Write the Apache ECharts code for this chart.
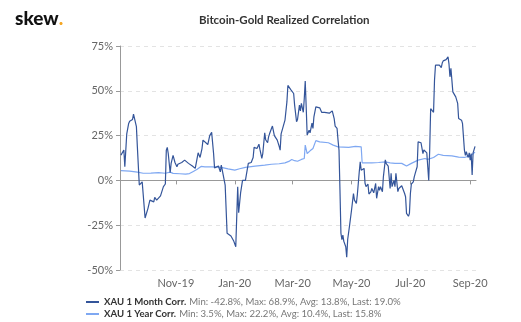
<!DOCTYPE html>
<html>
<head>
<meta charset="utf-8">
<script src="https://cdn.jsdelivr.net/npm/echarts@6/dist/echarts.min.js"></script>
<style>html,body{margin:0;padding:0;background:#fff;}#c{width:521px;height:322px;}</style>
</head>
<body>
<div id="c"></div>
<script>
const titleText = 'Bitcoin-Gold Realized Correlation';
const seriesNames = ['XAU 1 Month Corr.', 'XAU 1 Year Corr.'];
const seriesStats = ['Min: -42.8%, Max: 68.9%, Avg: 13.8%, Last: 19.0%', 'Min: 3.5%, Max: 22.2%, Avg: 10.4%, Last: 15.8%'];
const yTicks = [-50, -25, 0, 25, 50, 75];
const xRange = ['2019-09-04', '2020-09-07'];

const monthDates = ['2019-09-05','2019-09-06','2019-09-08','2019-09-09','2019-09-11','2019-09-13','2019-09-14','2019-09-17','2019-09-18','2019-09-20','2019-09-21','2019-09-22','2019-09-24','2019-09-26','2019-09-27','2019-09-29','2019-09-30',
'2019-10-01','2019-10-03','2019-10-05','2019-10-06','2019-10-07','2019-10-09','2019-10-10','2019-10-12','2019-10-14','2019-10-16','2019-10-18','2019-10-19','2019-10-21','2019-10-22','2019-10-23','2019-10-24','2019-10-26','2019-10-27','2019-10-29','2019-10-31',
'2019-11-02','2019-11-03','2019-11-05','2019-11-07','2019-11-09','2019-11-10','2019-11-12','2019-11-14','2019-11-15','2019-11-18','2019-11-21','2019-11-22','2019-11-24','2019-11-26','2019-11-28','2019-11-29',
'2019-12-01','2019-12-04','2019-12-06','2019-12-08','2019-12-10','2019-12-11','2019-12-13','2019-12-15','2019-12-17','2019-12-18','2019-12-20','2019-12-22','2019-12-23','2019-12-24','2019-12-26','2019-12-28','2019-12-29','2019-12-31',
'2020-01-02','2020-01-04','2020-01-05','2020-01-06','2020-01-07','2020-01-09','2020-01-11','2020-01-12','2020-01-14','2020-01-15','2020-01-17','2020-01-18','2020-01-20','2020-01-21','2020-01-23','2020-01-24','2020-01-26','2020-01-27','2020-01-29','2020-01-30',
'2020-02-01','2020-02-02','2020-02-04','2020-02-05','2020-02-06','2020-02-08','2020-02-09','2020-02-11','2020-02-12','2020-02-14','2020-02-16','2020-02-17','2020-02-18','2020-02-20','2020-02-22','2020-02-24','2020-02-25','2020-02-27','2020-02-28',
'2020-03-01','2020-03-02','2020-03-03','2020-03-05','2020-03-06','2020-03-08','2020-03-09','2020-03-10','2020-03-12','2020-03-13','2020-03-14','2020-03-15','2020-03-16','2020-03-18','2020-03-19','2020-03-21','2020-03-22','2020-03-23','2020-03-25','2020-03-27','2020-03-29','2020-03-31',
'2020-04-02','2020-04-03','2020-04-05','2020-04-08','2020-04-10','2020-04-11','2020-04-13','2020-04-14','2020-04-16','2020-04-17','2020-04-18','2020-04-19','2020-04-20','2020-04-21','2020-04-22','2020-04-23','2020-04-25','2020-04-26','2020-04-27','2020-04-28','2020-04-29',
'2020-05-01','2020-05-03','2020-05-04','2020-05-06','2020-05-07','2020-05-09','2020-05-10','2020-05-11','2020-05-13','2020-05-14','2020-05-15','2020-05-16','2020-05-18','2020-05-19','2020-05-21','2020-05-22','2020-05-24','2020-05-26','2020-05-27','2020-05-29','2020-05-30','2020-05-31',
'2020-06-02','2020-06-03','2020-06-05','2020-06-06','2020-06-08','2020-06-10','2020-06-11','2020-06-12','2020-06-14','2020-06-15','2020-06-16','2020-06-18','2020-06-19','2020-06-20','2020-06-22','2020-06-24','2020-06-25','2020-06-26','2020-06-27','2020-06-29','2020-06-30',
'2020-07-01','2020-07-02','2020-07-04','2020-07-05','2020-07-06','2020-07-08','2020-07-09','2020-07-11','2020-07-12','2020-07-14','2020-07-15','2020-07-16','2020-07-18','2020-07-19','2020-07-20','2020-07-21','2020-07-22','2020-07-23','2020-07-25','2020-07-26','2020-07-27','2020-07-29','2020-07-31',
'2020-08-02','2020-08-03','2020-08-04','2020-08-06','2020-08-07','2020-08-09','2020-08-10','2020-08-11','2020-08-12','2020-08-14','2020-08-15','2020-08-17','2020-08-19','2020-08-20','2020-08-21','2020-08-23','2020-08-24','2020-08-26','2020-08-27','2020-08-28','2020-08-29','2020-08-30','2020-08-31',
'2020-09-01','2020-09-02','2020-09-03','2020-09-04','2020-09-06'];
const monthValues = [14.1,13,17,7.6,26,31.8,33,34,37,37.5,30,18.7,-2.6,-3,-0.8,-1,-21,
-21,-15.6,-11,-12,-10.5,-12,-9.5,-11,-10,-8.6,-7.9,-3.5,-2,16.9,18.4,15,4.3,9.5,14,10,
7.6,9,8,10,9,11.3,10.5,9.5,8.5,8,6.7,6,15.4,12.8,17.8,22.5,
21.5,20,25,26.8,15,7,6.2,8,4.8,8.5,7.7,-2.6,-3.5,-29.5,-30,-31,-31.5,-34,
-37,-3.5,-18,-18.3,-7,0,0.5,0,0,9.5,9,10,12.8,18.4,19,17.8,20.2,17.4,12.3,15,
26.5,22.7,21,24.3,26,29,30.3,25,24,22.5,19,16.9,26,25,33.6,43.8,53,52.5,50.7,
51.6,48.5,42,32.7,34,42,38.8,43,38,45.7,55.5,41,25.3,28,26.5,32,29,35.5,41,41,40.5,38,
39,38,38.5,37.5,38,38.8,34.5,30.3,29,22.5,16.9,-5.4,-29.5,-33,-30.5,-34,-37,-42.8,-33,-32.5,-25,
-16.5,-7.3,-11,-12.8,-8,4.8,10.4,5.7,5.7,6.7,-1.7,-3.5,-2,-7.6,-6.4,-4.5,-6.9,-1.7,-10,-3.5,-5.6,-3.5,
-6.3,2,11.5,9.3,8,-4.5,3.9,-3.5,0,-3.5,3.9,-6.3,-4.5,-3.5,-3,-3.5,-7.3,-9.1,-18.4,-20,-18.4,
-7.3,-2,-0.8,2,3.9,7.6,21.5,22,21,15,17,17.8,15.4,7.6,0,17,40,39,38,56,64.3,64.8,64.3,
63,65.5,66.7,66.5,67.4,68.9,65,57.8,62.5,49.4,48.5,46.6,43,34.5,34.9,33.6,31.8,16.9,14,16,14,12.8,15.4,
11.3,15,3,15.4,19.0];

const yearDates = ['2019-09-05','2019-09-14','2019-09-22','2019-09-28','2019-10-06','2019-10-14','2019-10-21','2019-10-26','2019-10-29','2019-11-05','2019-11-11','2019-11-15','2019-11-19','2019-11-23','2019-11-27',
'2019-12-01','2019-12-08','2019-12-18','2019-12-25','2020-01-01','2020-01-06','2020-01-12','2020-01-22','2020-02-01','2020-02-08','2020-02-16','2020-02-22','2020-02-26','2020-02-29',
'2020-03-03','2020-03-06','2020-03-10','2020-03-13','2020-03-14','2020-03-16','2020-03-19','2020-03-22','2020-03-25','2020-03-29','2020-04-07','2020-04-12','2020-04-17','2020-04-28',
'2020-05-05','2020-05-11','2020-05-12','2020-05-22','2020-05-29','2020-06-05','2020-06-10','2020-06-15','2020-06-22','2020-06-27','2020-07-02','2020-07-09','2020-07-16','2020-07-19','2020-07-25','2020-07-30',
'2020-08-04','2020-08-13','2020-08-20','2020-08-26','2020-09-02','2020-09-06'];
const yearValues = [5.5,5.2,4.6,4.0,4.1,4.3,4.0,4.6,3.9,3.7,3.5,3.8,5.0,6.2,7.8,
7.6,7.6,7.3,6.4,5.7,6.5,7.3,8.0,8.5,9.0,9.3,9.8,10.6,11.7,
11.0,10.7,11.7,12.2,19.7,15.0,16.5,17.8,22.2,21.5,21.0,19.7,18.7,18.4,
19.0,18.7,9.8,9.8,10.0,10.3,9.8,9.5,9.5,8.0,9.5,11.3,12.2,11.7,12.8,14.6,
14.0,13.7,13.0,12.8,14.0,15.8];

const monthNames = ['Jan','Feb','Mar','Apr','May','Jun','Jul','Aug','Sep','Oct','Nov','Dec'];
const pair = (d, v) => d.map((x, i) => [x, v[i]]);

const chart = echarts.init(document.getElementById('c'), null, {renderer: 'canvas'});
chart.setOption({
  animation: false,
  backgroundColor: '#fff',
  textStyle: {fontFamily: 'Lato'},
  title: {
    text: titleText, left: 199, top: 14, padding: 0,
    textStyle: {fontSize: 11.5, fontWeight: 'bold', color: '#333', fontFamily: 'Lato'}
  },
  graphic: [{
    type: 'text', left: 15, top: 9,
    style: {
      text: '{a|skew}{b|.}',
      rich: {
        a: {fontSize: 19, fontWeight: 900, fill: '#111', fontFamily: 'Lato'},
        b: {fontSize: 19, fontWeight: 900, fill: '#f5a623', fontFamily: 'Lato'}
      }
    }
  }],
  legend: {
    orient: 'vertical', left: 86, top: 296, itemGap: 0, padding: 0,
    itemWidth: 13, itemHeight: 2, icon: 'rect',
    data: seriesNames,
    formatter: name => '{b|' + name + '} {n|' + seriesStats[seriesNames.indexOf(name)] + '}',
    textStyle: {
      rich: {
        b: {fontSize: 9.6, fontWeight: 'bold', color: '#333', fontFamily: 'Lato', lineHeight: 10.5},
        n: {fontSize: 9.6, color: '#777', fontFamily: 'Lato', lineHeight: 10.5}
      }
    }
  },
  grid: {left: 120, right: 45, top: 46, bottom: 52},
  xAxis: {
    type: 'time', min: xRange[0], max: xRange[1], splitNumber: 5,
    axisLine: {lineStyle: {color: '#999'}},
    axisTick: {show: true, length: 4, lineStyle: {color: '#999'}},
    splitLine: {show: false},
    axisLabel: {
      color: '#666', fontSize: 11, margin: 8, fontFamily: 'Lato',
      formatter: v => { const d = new Date(v); return monthNames[d.getMonth()] + '-' + String(d.getFullYear()).slice(2); }
    }
  },
  yAxis: {
    type: 'value', min: yTicks[0], max: yTicks[yTicks.length - 1], interval: 25,
    axisLine: {show: true, lineStyle: {color: '#999'}},
    axisTick: {show: true, length: 4, lineStyle: {color: '#999'}},
    splitLine: {show: true, lineStyle: {color: '#e3e3e3', type: [4, 4]}},
    axisLabel: {color: '#666', fontSize: 11, margin: 7, fontFamily: 'Lato', formatter: '{value}%'}
  },
  series: [
    {name: seriesNames[0], type: 'line', data: pair(monthDates, monthValues), showSymbol: false, symbol: 'none',
     lineStyle: {width: 1.2, color: '#34559a'}, itemStyle: {color: '#34559a'}, z: 3},
    {name: seriesNames[1], type: 'line', data: pair(yearDates, yearValues), showSymbol: false, symbol: 'none',
     lineStyle: {width: 1.2, color: '#7fa8f2'}, itemStyle: {color: '#7fa8f2'}, z: 2}
  ]
});
</script>
</body>
</html>
